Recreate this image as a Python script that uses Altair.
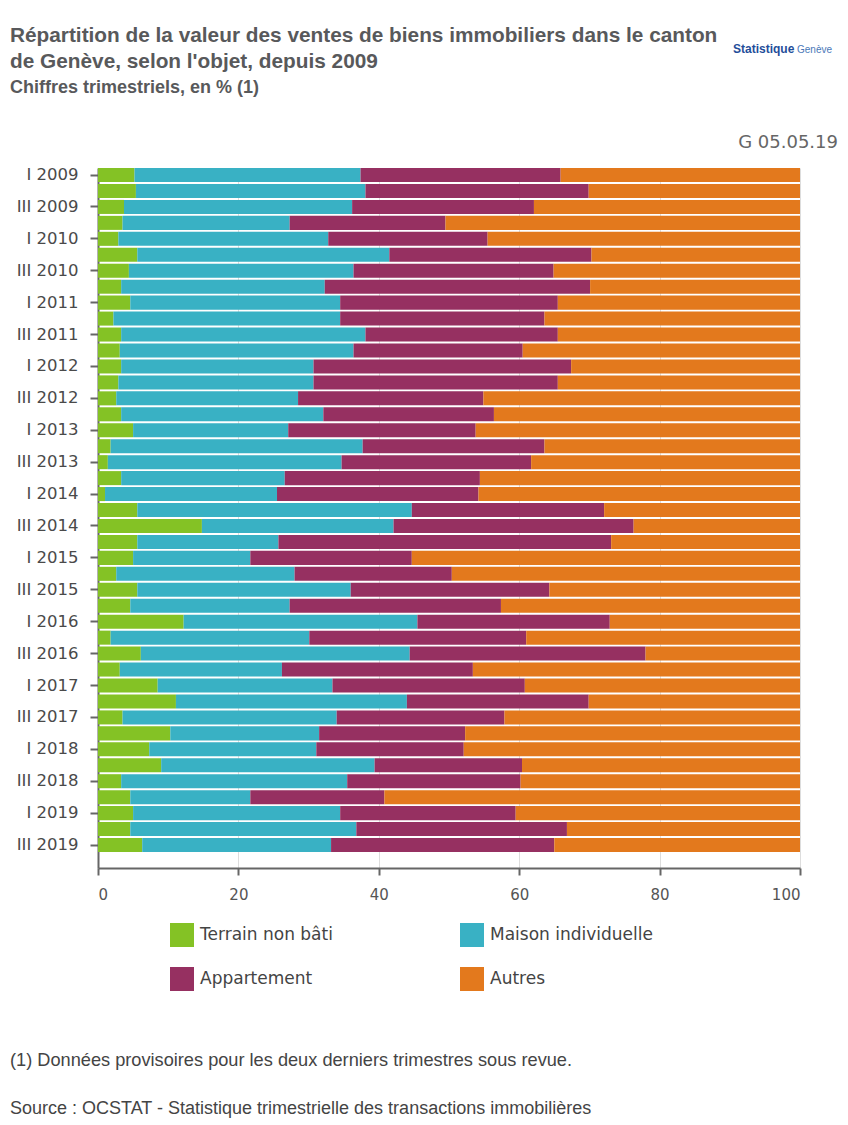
import altair as alt
import pandas as pd

quarters = [
    "I 2009", "II 2009", "III 2009", "IV 2009",
    "I 2010", "II 2010", "III 2010", "IV 2010",
    "I 2011", "II 2011", "III 2011", "IV 2011",
    "I 2012", "II 2012", "III 2012", "IV 2012",
    "I 2013", "II 2013", "III 2013", "IV 2013",
    "I 2014", "II 2014", "III 2014", "IV 2014",
    "I 2015", "II 2015", "III 2015", "IV 2015",
    "I 2016", "II 2016", "III 2016", "IV 2016",
    "I 2017", "II 2017", "III 2017", "IV 2017",
    "I 2018", "II 2018", "III 2018", "IV 2018",
    "I 2019", "II 2019", "III 2019",
]

terrain = [5.2, 5.4, 3.7, 3.5, 2.9, 5.6, 4.4, 3.3, 4.6, 2.2, 3.3, 3.1, 3.3, 2.9, 2.6, 3.3,
           5.0, 1.8, 1.4, 3.3, 1.0, 5.6, 14.8, 5.6, 5.0, 2.6, 5.6, 4.6, 12.2, 1.8, 6.1, 3.1,
           8.5, 11.1, 3.5, 10.3, 7.3, 9.0, 3.3, 4.6, 5.0, 4.6, 6.3]
maison = [32.2, 32.7, 32.5, 23.8, 29.9, 35.9, 32.0, 29.0, 29.9, 32.3, 34.8, 33.3, 27.4, 27.8, 25.9, 28.8,
          22.1, 35.9, 33.3, 23.3, 24.5, 39.1, 27.3, 20.1, 16.7, 25.4, 30.4, 22.7, 33.3, 28.3, 38.3, 23.1,
          24.9, 32.9, 30.5, 21.2, 23.8, 30.4, 32.2, 17.1, 29.5, 32.2, 26.9]
appartement = [28.5, 31.8, 25.9, 22.2, 22.7, 28.8, 28.5, 37.8, 31.0, 29.1, 27.4, 24.1, 36.7, 34.8, 26.4, 24.3,
               26.7, 25.9, 27.0, 27.8, 28.7, 27.4, 34.2, 47.4, 23.0, 22.4, 28.3, 30.1, 27.4, 30.9, 33.6, 27.2,
               27.4, 25.9, 23.9, 20.8, 21.0, 21.0, 24.7, 19.1, 25.0, 30.0, 31.8]
autres = [34.1, 30.1, 37.9, 50.5, 44.5, 29.7, 35.1, 29.9, 34.5, 36.4, 34.5, 39.5, 32.6, 34.5, 45.1, 43.6,
          46.2, 36.4, 38.3, 45.6, 45.8, 27.9, 23.7, 26.9, 55.3, 49.6, 35.7, 42.6, 27.1, 39.0, 22.0, 46.6,
          39.2, 30.1, 42.1, 47.7, 47.9, 39.6, 39.8, 59.2, 40.5, 33.2, 35.0]

categories = ["Terrain non bâti", "Maison individuelle", "Appartement", "Autres"]
colors = ["#84c225", "#39b1c4", "#963061", "#e3791d"]
x_ticks = [0, 20, 40, 60, 80, 100]
y_labels = [q for q in quarters if q.startswith("I ") or q.startswith("III ")]

title_line1 = "Répartition de la valeur des ventes de biens immobiliers dans le canton"
title_line2 = "de Genève, selon l'objet, depuis 2009"
subtitle = "Chiffres trimestriels, en % (1)"
code_text = "G 05.05.19"
footnote = "(1) Données provisoires pour les deux derniers trimestres sous revue."
source = "Source : OCSTAT - Statistique trimestrielle des transactions immobilières"

series = [terrain, maison, appartement, autres]
rows = []
for k, (cat, vals) in enumerate(zip(categories, series)):
    for q, v in zip(quarters, vals):
        rows.append({"trimestre": q, "objet": cat, "valeur": v, "k": k})
df = pd.DataFrame(rows)

y_domain = quarters + [" "]

bars = alt.Chart(df).mark_bar().encode(
    y=alt.Y("trimestre:N",
            scale=alt.Scale(domain=y_domain, paddingInner=0.12, paddingOuter=0),
            axis=alt.Axis(values=y_labels, title=None, labelFont="DejaVu Sans",
                          labelFontSize=16.5, labelColor="#4a4a4a", labelPadding=12,
                          tickSize=8, tickColor="#666666", tickWidth=2,
                          domainColor="#666666", domainWidth=2, grid=False)),
    x=alt.X("valeur:Q", stack="zero",
            scale=alt.Scale(domain=[0, 100], nice=False),
            axis=alt.Axis(values=x_ticks, title=None, labelFont="DejaVu Sans",
                          labelFontSize=15, labelColor="#555555", labelPadding=12,
                          tickSize=7, tickColor="#666666", tickWidth=2,
                          domainColor="#666666", domainWidth=2,
                          grid=True, gridColor="#dddddd", gridWidth=1)),
    color=alt.Color("objet:N",
                    scale=alt.Scale(domain=categories, range=colors),
                    legend=alt.Legend(title=None, orient="none", legendX=72, legendY=755,
                                      direction="horizontal",
                                      columns=2, columnPadding=127, rowPadding=20,
                                      symbolType="square", symbolSize=576,
                                      symbolStrokeWidth=0, symbolOpacity=1,
                                      labelFont="DejaVu Sans", labelFontSize=17,
                                      labelColor="#444444", labelOffset=6,
                                      labelLimit=400, padding=0)),
    order=alt.Order("k:Q"),
)

def text_layer(txt, x, y, size, color, font="Liberation Sans", weight="normal", align="left"):
    return alt.Chart(pd.DataFrame({"t": [txt]})).mark_text(
        align=align, baseline="alphabetic", font=font, fontSize=size,
        fontWeight=weight, color=color
    ).encode(text="t:N", x=alt.value(x), y=alt.value(y))

title1 = text_layer(title_line1, -88, -126, 20.8, "#58595b", weight="bold")
title2 = text_layer(title_line2, -88, -100, 20.8, "#58595b", weight="bold")
sub_layer = text_layer(subtitle, -88, -75, 18, "#58595b", weight="bold")
code_layer = text_layer(code_text, 740, -20, 18, "#666666", font="DejaVu Sans", align="right")
logo1 = text_layer("Statistique", 635, -115, 12, "#1f4e9a", weight="bold")
logo2 = text_layer("Genève", 699, -115, 10, "#4a78b8")
foot_layer = text_layer(footnote, -88, 898, 18.2, "#444444")
src_layer = text_layer(source, -88, 946, 18, "#444444")

chart = alt.layer(bars, title1, title2, sub_layer, code_layer, logo1, logo2,
                  foot_layer, src_layer).properties(
    width=702, height=700,
    autosize=alt.AutoSizeParams(type="none"),
    padding={"left": 90, "top": 160, "right": 40, "bottom": 250},
).configure_view(stroke=None)

chart.save("out.html", embed_options={"renderer": "svg", "actions": False})
